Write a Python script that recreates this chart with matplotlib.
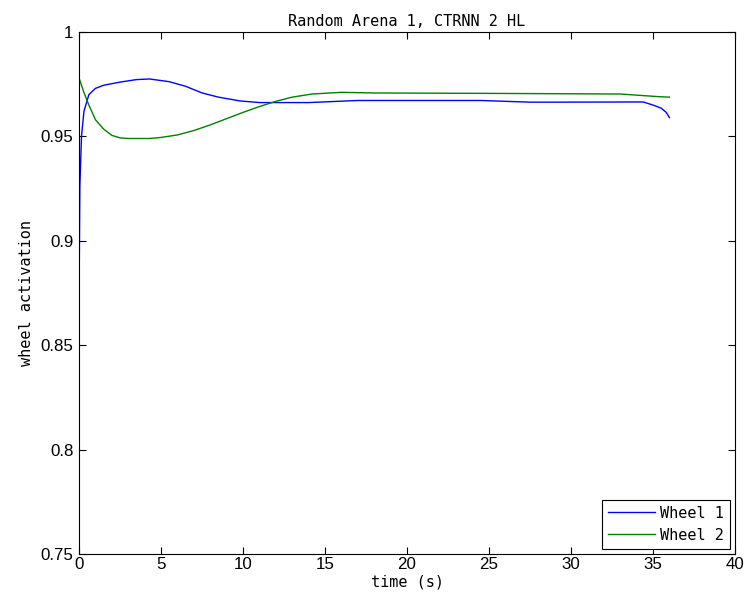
import numpy as np
import matplotlib.pyplot as plt

plt.rcParams.update({
    "font.family": ["DejaVu Sans Mono", "DejaVu Sans"],
    "font.size": 11,
    "axes.linewidth": 0.8,
    "xtick.direction": "in", "ytick.direction": "in",
    "xtick.top": True, "ytick.right": True,
})

# ---- values ----
t_wheel1 = [0.0, 0.05, 0.15, 0.3, 0.6, 1.0, 1.5, 2.5, 3.5, 4.3, 5.5, 6.5,
            7.5, 8.5, 9.8, 11.0, 14.0, 17.0, 24.5, 27.5, 29.0, 34.4, 35.0,
            35.5, 35.8, 36.0]
wheel1 = [0.871, 0.926, 0.950, 0.962, 0.970, 0.973, 0.9745, 0.9760, 0.9772,
          0.9775, 0.9762, 0.9740, 0.9708, 0.9688, 0.9670, 0.9662, 0.9662,
          0.9672, 0.9672, 0.9664, 0.9664, 0.9665, 0.9650, 0.9635, 0.9615,
          0.9590]

t_wheel2 = [0.0, 0.3, 0.6, 1.0, 1.5, 2.0, 2.5, 3.0, 4.3, 5.0, 6.0, 7.0, 8.0,
            9.0, 10.0, 11.0, 12.0, 13.0, 14.2, 16.0, 18.0, 25.0, 33.0, 35.4,
            36.0]
wheel2 = [0.978, 0.971, 0.965, 0.958, 0.9535, 0.9505, 0.9493, 0.9490,
          0.9490, 0.9495, 0.9507, 0.9528, 0.9555, 0.9585, 0.9615, 0.9643,
          0.9668, 0.9688, 0.9703, 0.9711, 0.9708, 0.9706, 0.9703, 0.9690,
          0.9688]

x_ticks = [0, 5, 10, 15, 20, 25, 30, 35, 40]
y_ticks = [0.75, 0.8, 0.85, 0.9, 0.95, 1.0]
y_labels = ["0.75", "0.8", "0.85", "0.9", "0.95", "1"]

fig = plt.figure(figsize=(7.47, 6.06), dpi=100)
ax = fig.add_axes([0.1058, 0.0858, 0.8782, 0.8614])

ax.plot(t_wheel1, wheel1, color=(0, 0, 1), lw=1.0, label="Wheel 1")
ax.plot(t_wheel2, wheel2, color=(0, 0.5, 0), lw=1.0, label="Wheel 2")

ax.set_xlim(0, 40)
ax.set_ylim(0.75, 1.0)
ax.set_xticks(x_ticks)
ax.set_yticks(y_ticks)
ax.set_yticklabels(y_labels)
ax.tick_params(length=5, width=0.8)
ax.tick_params(axis="x", pad=2)
ax.tick_params(axis="y", pad=4)
for lab in ax.get_xticklabels() + ax.get_yticklabels():
    lab.set_fontfamily(["Liberation Sans", "DejaVu Sans"])
    lab.set_fontsize(12.2)

ax.set_xlabel("time (s)", labelpad=2)
ax.set_ylabel("wheel activation", labelpad=5)
ax.set_title("Random Arena 1, CTRNN 2 HL", fontsize=11, pad=4)

leg = ax.legend(loc="lower right", fancybox=False, edgecolor="k",
                framealpha=1, borderaxespad=0.35, handlelength=3.1,
                handletextpad=0.3, labelspacing=0.45, borderpad=0.4)
leg.get_frame().set_linewidth(0.8)

fig.savefig("out.png", dpi=100)
